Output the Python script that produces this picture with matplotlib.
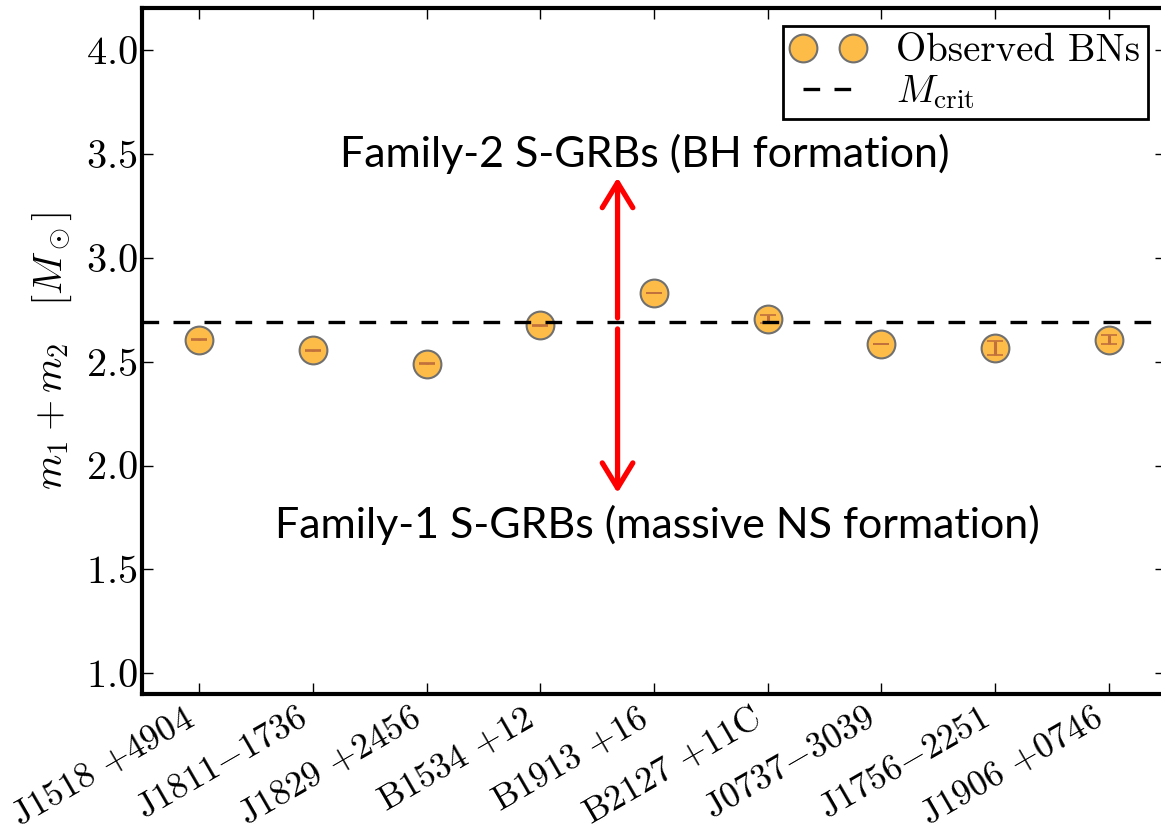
import matplotlib
matplotlib.use("Agg")
import matplotlib.pyplot as plt

# binary neutron stars and their total masses
systems = ["J1518 $+$4904", "J1811$-$1736", "J1829 $+$2456", "B1534 $+$12",
           "B1913 $+$16", "B2127 $+$11C", "J0737$-$3039", "J1756$-$2251",
           "J1906 $+$0746"]
total_mass = [2.605, 2.555, 2.49, 2.675, 2.83, 2.705, 2.585, 2.565, 2.605]
mass_err = [0.002, 0.002, 0.002, 0.002, 0.002, 0.021, 0.002, 0.035, 0.022]
m_crit = 2.69

plt.rcParams["font.family"] = "cmr10"
plt.rcParams["mathtext.fontset"] = "cm"
plt.rcParams["axes.formatter.use_mathtext"] = True

fig = plt.figure(figsize=(11.61, 8.33), dpi=100)
ax = fig.add_axes([0.1226, 0.1666, 0.8813, 0.8236])

x = list(range(len(systems)))
ax.plot(x, total_mass, "o", ms=20, mfc="#fdbb48", mec="#707070", mew=1.5,
        zorder=2, label="Observed BNs")
ax.errorbar(x, total_mass, yerr=mass_err, fmt="none", ecolor="#c0703c",
            elinewidth=2.2, capsize=6, capthick=1.2, zorder=3)
ax.axhline(m_crit, color="k", lw=2.4, dashes=(5, 4.3), zorder=4,
           label=r"$M_{\rm crit}$")

# split red arrow: up to family 2, down to family 1
arr = dict(arrowstyle="->,head_length=0.9,head_width=0.55", color="red",
           lw=3.8, mutation_scale=20, shrinkA=0, shrinkB=0)
ax.annotate("", xy=(3.68, 3.385), xytext=(3.68, 2.71), arrowprops=arr)
ax.annotate("", xy=(3.68, 1.868), xytext=(3.68, 2.657), arrowprops=arr)

ax.text(3.92, 3.5, "Family-2 S-GRBs (BH formation)", family="Lato",
        fontsize=31, ha="center", va="center")
ax.text(4.03, 1.713, "Family-1 S-GRBs (massive NS formation)", family="Lato",
        fontsize=31, ha="center", va="center")

ax.set_xlim(-0.5, 8.5)
ax.set_ylim(0.9, 4.2)
ax.set_xticks(x)
ax.set_xticklabels(systems, rotation=30, ha="right", fontsize=26)
ax.set_yticks([1.0, 1.5, 2.0, 2.5, 3.0, 3.5, 4.0])
ax.tick_params(axis="y", labelsize=29)
ax.tick_params(direction="in", length=8, width=1, top=True, right=True)
ax.tick_params(axis="x", pad=6)
for sp in ax.spines.values():
    sp.set_linewidth(3)
ax.set_ylabel(r"$m_1 + m_2 \quad [M_\odot]$", fontsize=29, labelpad=8)

leg = ax.legend(loc="upper right", numpoints=2, fontsize=28, fancybox=False,
                framealpha=1, edgecolor="k", handlelength=1.9,
                borderaxespad=0.45, borderpad=0.2, labelspacing=0.1,
                handletextpad=0.8)
leg.get_frame().set_linewidth(2)

fig.savefig("out.png", dpi=100)
